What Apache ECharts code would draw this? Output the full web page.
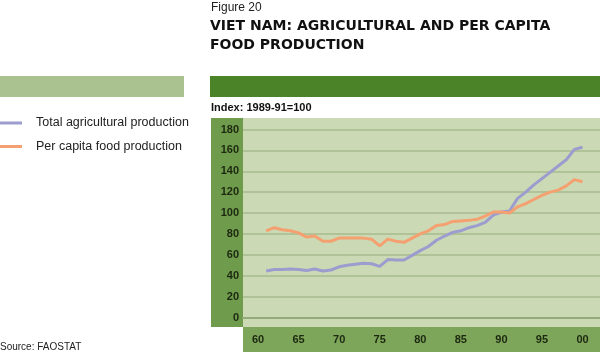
<!DOCTYPE html>
<html>
<head>
<meta charset="utf-8">
<script src="https://cdn.jsdelivr.net/npm/echarts@6/dist/echarts.min.js"></script>
<style>
html,body{margin:0;padding:0;background:#fff;}
#chart{width:600px;height:355px;}
</style>
</head>
<body>
<div id="chart"></div>
<script>
const years = [1961,1962,1963,1964,1965,1966,1967,1968,1969,1970,1971,1972,1973,1974,1975,1976,1977,1978,1979,1980,1981,1982,1983,1984,1985,1986,1987,1988,1989,1990,1991,1992,1993,1994,1995,1996,1997,1998,1999,2000];
const totalAgricultural = [44.5,46,46,46.5,46,45,46.5,44.5,45.5,48.5,50,51,52,51.5,49,55.5,55,55,59.5,64,68,74,78,81.5,83,86,88,91,98,101,102,114,120,127,133,139,145,151,161,163];
const perCapitaFood = [83,86,84,83,81,77,78,73,73,76,76,76,76,75,68.5,75,73,72,76,80,83,88,89,92,92.5,93,94,97,101,101,100,106,109,113,117,120,122,126,132,130];
const seriesNames = ['Total agricultural production','Per capita food production'];
const xTickYears = [1960,1965,1970,1975,1980,1985,1990,1995,2000];
const xTickLabels = ['60','65','70','75','80','85','90','95','00'];

const chart = echarts.init(document.getElementById('chart'), null, {renderer:'canvas'});
const pairs = arr => years.map((y,i)=>[y,arr[i]]);
const font = 'Liberation Sans, Arial, sans-serif';

chart.setOption({
  animation:false,
  backgroundColor:'#ffffff',
  title:[
    {text:'Figure 20', left:211, top:1, padding:0,
     textStyle:{fontFamily:font, fontSize:12, fontWeight:'normal', color:'#222', lineHeight:14}},
    {text:'VIET NAM: AGRICULTURAL AND PER CAPITA\nFOOD PRODUCTION', left:210, top:16.5, padding:0,
     textStyle:{fontFamily:'DejaVu Sans, sans-serif', fontSize:14, fontWeight:'bold', color:'#111', lineHeight:19}},
    {text:'Index: 1989-91=100', left:211, top:101, padding:0,
     textStyle:{fontFamily:font, fontSize:11, fontWeight:'bold', color:'#111', lineHeight:13}},
    {text:'Source: FAOSTAT', left:0, top:341, padding:0,
     textStyle:{fontFamily:font, fontSize:10, fontWeight:'normal', color:'#222', lineHeight:12}}
  ],
  graphic:{elements:[
    {type:'rect', z:-10, shape:{x:0,y:76,width:184,height:21}, style:{fill:'#a9c28f'}, silent:true},
    {type:'rect', z:-10, shape:{x:210,y:76,width:390,height:21}, style:{fill:'#4b8428'}, silent:true},
    {type:'rect', z:-10, shape:{x:211,y:118,width:32,height:209}, style:{fill:'#6f9b4c'}, silent:true},
    {type:'rect', z:-10, shape:{x:243,y:118,width:357,height:209}, style:{fill:'#cbdab5'}, silent:true},
    {type:'rect', z:-10, shape:{x:243,y:327,width:357,height:25}, style:{fill:'#7ea65b'}, silent:true}
  ]},
  legend:{
    orient:'vertical', left:0, top:116, padding:0,
    icon:'rect', itemWidth:22, itemHeight:3, itemGap:9.5,
    data:seriesNames,
    textStyle:{fontFamily:font, fontSize:12.5, color:'#222', lineHeight:14, padding:[0,0,0,9]}
  },
  grid:{left:243, right:0, top:129.5, bottom:37.5, containLabel:false},
  xAxis:{
    type:'value', min:1958.151, max:2002.157,
    axisLine:{show:true, lineStyle:{color:'#93ab7a', width:2}},
    axisTick:{show:false},
    splitLine:{show:false},
    axisLabel:{
      customValues:xTickYears,
      formatter:v=>xTickLabels[xTickYears.indexOf(Math.round(v))] ?? '',
      margin:16, fontFamily:font, fontSize:11, fontWeight:'bold', color:'#1c2810', lineHeight:13
    }
  },
  yAxis:{
    type:'value', min:0, max:180, interval:20,
    axisLine:{show:false}, axisTick:{show:false},
    splitLine:{show:true, lineStyle:{color:'#a7bb8f', width:1.5}},
    axisLabel:{margin:4, fontFamily:font, fontSize:11, fontWeight:'bold', color:'#1c2810'}
  },
  series:[
    {name:seriesNames[0], type:'line', data:pairs(totalAgricultural), symbol:'none', showSymbol:false,
     lineStyle:{width:3, color:'#9c9ccf'}, itemStyle:{color:'#9c9ccf'}, z:3},
    {name:seriesNames[1], type:'line', data:pairs(perCapitaFood), symbol:'none', showSymbol:false,
     lineStyle:{width:3, color:'#f4a070'}, itemStyle:{color:'#f4a070'}, z:4}
  ]
});
</script>
</body>
</html>
